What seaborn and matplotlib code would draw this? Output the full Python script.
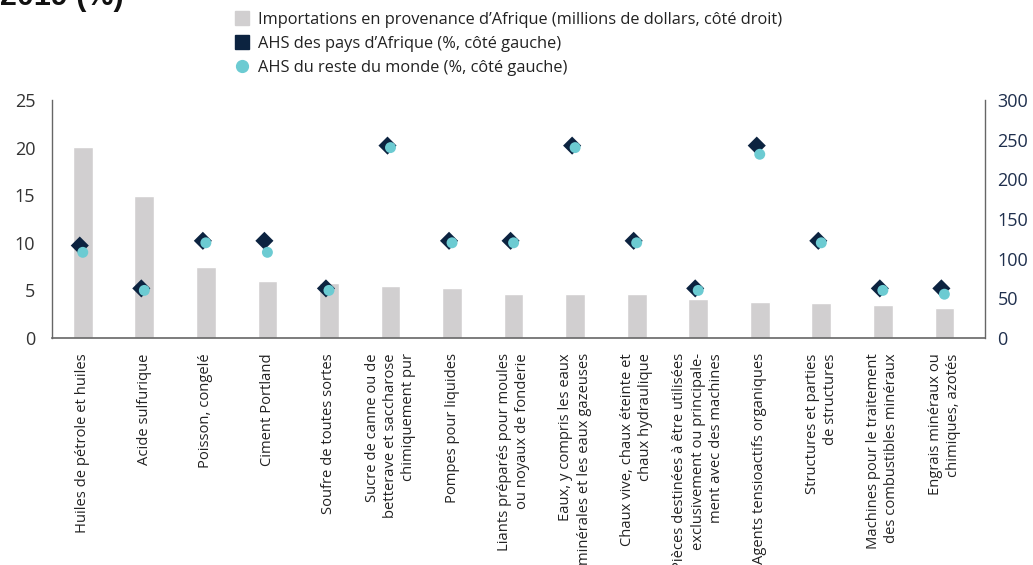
import numpy as np
import pandas as pd
import matplotlib
matplotlib.use("Agg")
import matplotlib.pyplot as plt
import matplotlib.transforms as mtransforms
from matplotlib.lines import Line2D
import seaborn as sns

categories = [
    "Huiles de pétrole et huiles",
    "Acide sulfurique",
    "Poisson, congelé",
    "Ciment Portland",
    "Soufre de toutes sortes",
    "Sucre de canne ou de\nbetterave et saccharose\nchimiquement pur",
    "Pompes pour liquides",
    "Liants préparés pour moules\nou noyaux de fonderie",
    "Eaux, y compris les eaux\nminérales et les eaux gazeuses",
    "Chaux vive, chaux éteinte et\nchaux hydraulique",
    "Pièces destinées à être utilisées\nexclusivement ou principale-\nment avec des machines",
    "Agents tensioactifs organiques",
    "Structures et parties\nde structures",
    "Machines pour le traitement\ndes combustibles minéraux",
    "Engrais minéraux ou\nchimiques, azotés",
]
imports_africa = [241, 179, 89, 72, 69, 66, 63, 55, 55, 55, 49, 46, 44, 41, 38]
ahs_africa = [9.5, 5.0, 10.0, 10.0, 5.0, 20.0, 10.0, 10.0, 20.0, 10.0, 5.0, 20.0, 10.0, 5.0, 5.0]
ahs_rest = [9.0, 5.0, 10.0, 9.0, 5.0, 20.0, 10.0, 10.0, 20.0, 10.0, 5.0, 19.3, 10.0, 5.0, 4.6]

left_ticks = [0, 5, 10, 15, 20, 25]
right_ticks = [0, 50, 100, 150, 200, 250, 300]

legend_labels = [
    "Importations en provenance d\u2019Afrique (millions de dollars, côté droit)",
    "AHS des pays d\u2019Afrique (%, côté gauche)",
    "AHS du reste du monde (%, côté gauche)",
]
title_text = "2019 (%)"

BAR = "#d1cfd0"
NAVY = "#0c2340"
CYAN = "#6ccbd2"
GREY_TXT = "#333333"
NAVY_TXT = "#1f2f4d"
SPINE = "#666666"

sns.set_theme(style="white")
plt.rcParams["font.family"] = ["Open Sans", "DejaVu Sans"]

df = pd.DataFrame({
    "idx": np.arange(len(categories)),
    "imports": imports_africa,
    "afr": ahs_africa,
    "rest": ahs_rest,
})

fig = plt.figure(figsize=(10.33, 5.65), dpi=100)
ax = fig.add_axes([52 / 1033, 1 - 338 / 565, (985 - 52) / 1033, (338 - 100) / 565])

# Bars on host axis (right-hand scale)
sns.barplot(data=df, x="idx", y="imports", color=BAR, width=0.32, ax=ax,
            saturation=1, order=list(range(len(categories))))

# Points on twin axis (left-hand scale)
ax2 = ax.twinx()
sns.scatterplot(data=df, x="idx", y="afr", marker="D", s=85, color=NAVY,
                edgecolor="none", ax=ax2, zorder=3, legend=False)
diamond_coll = ax2.collections[-1]
diamond_coll.set_offset_transform(
    mtransforms.offset_copy(ax2.transData, fig=fig, x=-3, y=2, units="dots"))
sns.scatterplot(data=df, x="idx", y="rest", marker="o", s=62, color=CYAN,
                edgecolor="none", ax=ax2, zorder=4, legend=False)

ax.set_ylim(0, 300)
ax.yaxis.tick_right()
ax.set_yticks(right_ticks)
ax.tick_params(axis="y", labelsize=13, labelcolor=NAVY_TXT, length=0, pad=9,
               left=False, labelleft=False, right=True, labelright=True)

ax2.set_ylim(0, 25)
ax2.yaxis.tick_left()
ax2.set_yticks(left_ticks)
ax2.tick_params(axis="y", labelsize=13, labelcolor=GREY_TXT, length=0, pad=12,
                left=True, labelleft=True, right=False, labelright=False)

for a in (ax, ax2):
    a.set_xlabel("")
    a.set_ylabel("")
    a.grid(False)
    a.patch.set_visible(False)
    for s in a.spines.values():
        s.set_visible(False)

ax.set_xlim(-0.5, len(categories) - 0.34)

for side, lw in (("bottom", 1.2), ("right", 1.0), ("left", 1.0)):
    ax.spines[side].set_visible(True)
    ax.spines[side].set_color(SPINE)
    ax.spines[side].set_linewidth(lw)

ax.set_xticks(np.arange(len(categories)))
ax.set_xticklabels(categories, rotation=90, ha="center", va="top",
                   multialignment="right", fontsize=10.6, color="#222222",
                   linespacing=1.3)
ax.tick_params(axis="x", length=0, pad=11, bottom=True, labelbottom=True)

# Legend
handles = [
    Line2D([], [], marker="s", linestyle="none", markersize=9.5, color=BAR),
    Line2D([], [], marker="s", linestyle="none", markersize=9.5, color=NAVY),
    Line2D([], [], marker="o", linestyle="none", markersize=8.5, color=CYAN),
]
fig.legend(handles, legend_labels, loc="upper left",
           bbox_to_anchor=(229 / 1033, 1 - 5 / 565), frameon=False,
           fontsize=11.8, handlelength=0.8, handletextpad=0.6,
           labelspacing=0.5, borderaxespad=0, labelcolor="#222222")

fig.text(0.0, 1 - 5 / 565, title_text, fontsize=22, fontweight="bold",
         family=["Liberation Sans", "DejaVu Sans"], color="#111111",
         ha="left", va="baseline")

fig.savefig("out.png", dpi=100)
